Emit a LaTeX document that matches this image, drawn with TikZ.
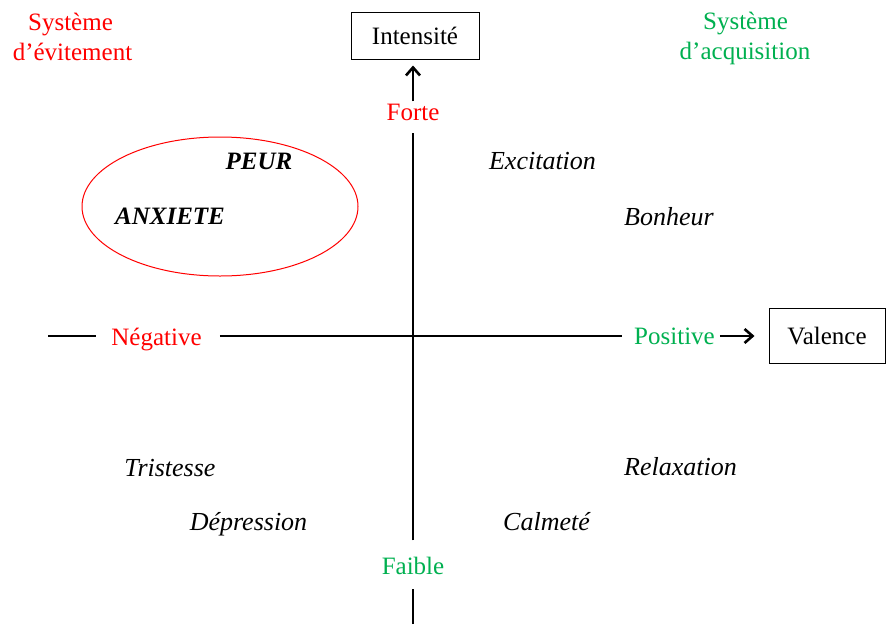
\documentclass[tikz,border=0pt]{standalone}
\usepackage{fontspec}
\setmainfont{Liberation Serif}
\usetikzlibrary{arrows.meta,shapes.geometric}
\definecolor{grn}{RGB}{0,176,80}
\definecolor{rd}{RGB}{255,0,0}
\begin{document}
\begin{tikzpicture}[x=1pt,y=-1pt,
  lbl/.style={font=\fontsize{25}{30}\selectfont, inner sep=0pt, anchor=base},
  emo/.style={font=\fontsize{26}{30}\selectfont\itshape, inner sep=0pt, anchor=base},
  emob/.style={font=\fontsize{25}{30}\selectfont\bfseries\itshape, inner sep=0pt, anchor=base},
  axis/.style={line width=2.6pt, black},
  boxn/.style={draw, line width=1pt, font=\fontsize{25}{30}\selectfont, inner sep=0pt},
  tip/.style={-{Straight Barb[length=8pt,width=14pt]}}
]
\useasboundingbox (0,0) rectangle (888,624);

% boxes
\node[boxn, minimum width=128pt, minimum height=47pt] (intens) at (415,35.5) {Intensité};
\node[boxn, minimum width=116pt, minimum height=55pt] (val) at (827,336) {Valence};

% axis labels
\node[lbl, rd, anchor=center, text height=18pt, text depth=0pt] (neg) at (156.5,336) {Négative};
\node[lbl, grn, anchor=center, text height=17pt, text depth=0pt] (pos) at (674.5,336) {Positive};
\node[lbl, rd] (forte) at (413,120) {Forte};
\node[lbl, grn] (faible) at (413,574) {Faible};

\coordinate (vb) at (413,624);
\coordinate (hl) at (48,336);

% vertical axis
\draw[axis, shorten >=15pt] (vb) -- (faible);
\draw[axis, shorten <=16pt, shorten >=13pt] (faible) -- (forte);
\draw[axis, tip, shorten <=2pt, shorten >=6pt] (forte.north) -- (intens.south -| forte.north);

% horizontal axis
\draw[axis, shorten >=15pt] (hl) -- (neg);
\draw[axis, shorten <=18pt, shorten >=12pt] (neg) -- (pos);
\draw[axis, tip, shorten <=5pt, shorten >=14pt] (pos) -- (val);

% systems
\node[lbl, rd] (sys1a) at (70.5,30) {Système};
\node[lbl, rd] (sys1b) at (72.5,60) {d’évitement};
\node[lbl, grn] (sys2a) at (745.5,29.5) {Système};
\node[lbl, grn] (sys2b) at (745,59) {d’acquisition};

% ellipse
\node[draw=rd, line width=1pt, ellipse, minimum width=276pt, minimum height=139pt] (ell) at (220,206.5) {};
\node[emob] (peur) at (259,169) {PEUR};
\node[emob] (anx) at (170,224) {ANXIETE};

% emotions
\node[emo] (exc) at (542.5,169) {Excitation};
\node[emo] (bon) at (669,225) {Bonheur};
\node[emo] (tri) at (170,476) {Tristesse};
\node[emo] (dep) at (248.5,530) {Dépression};
\node[emo] (rel) at (680.5,475) {Relaxation};
\node[emo] (cal) at (546.5,530) {Calmeté};
\end{tikzpicture}
\end{document}
